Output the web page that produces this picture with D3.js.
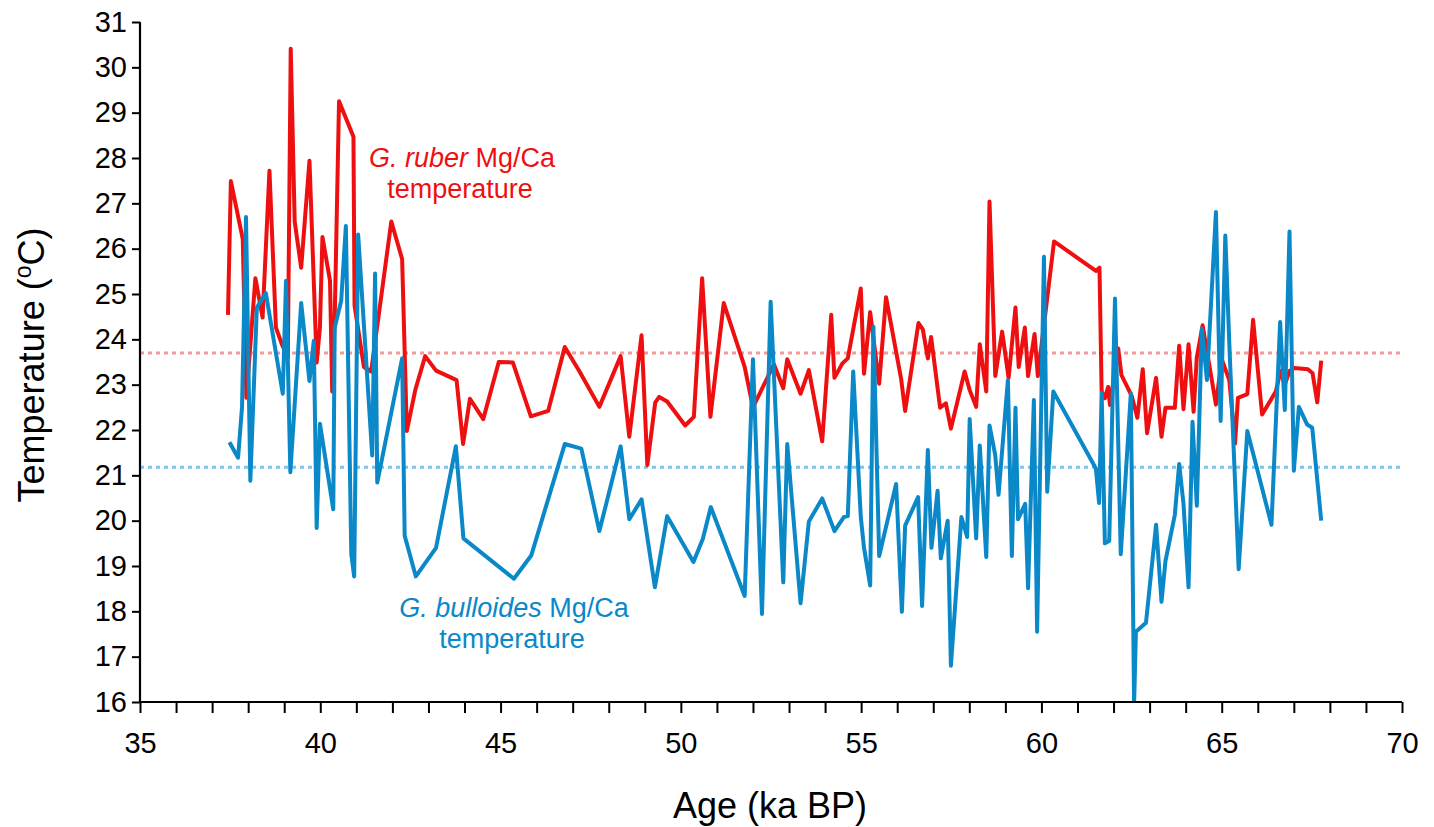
<!DOCTYPE html>
<html><head><meta charset="utf-8">
<script src="https://cdn.jsdelivr.net/npm/d3@7"></script>
<style>body{margin:0;background:#fff}svg text{font-family:"Liberation Sans",Arial,sans-serif}</style>
</head><body>
<svg id="c" width="1434" height="827"></svg>
<script>
const rubAge=[37.44,37.52,37.85,37.95,38.20,38.40,38.59,38.77,38.94,39.10,39.18,39.29,39.47,39.70,39.90,39.99,40.06,40.27,40.33,40.40,40.52,40.92,40.95,41.21,41.41,41.97,42.27,42.40,42.64,42.91,43.21,43.78,43.96,44.15,44.52,44.95,45.34,45.84,46.32,46.78,47.19,47.74,48.33,48.57,48.91,49.07,49.29,49.40,49.62,50.12,50.36,50.59,50.82,51.19,51.77,52.00,52.58,52.84,52.95,53.32,53.55,53.92,54.17,54.26,54.48,54.63,54.78,54.99,55.08,55.25,55.50,55.69,56.11,56.22,56.59,56.71,56.85,56.94,57.19,57.35,57.49,57.87,58.01,58.19,58.29,58.47,58.56,58.72,58.91,59.09,59.28,59.37,59.54,59.63,59.81,59.90,60.35,61.51,61.61,61.67,61.76,61.85,61.90,62.13,62.22,62.50,62.66,62.81,62.93,63.18,63.33,63.44,63.70,63.82,63.94,64.08,64.22,64.31,64.47,64.62,64.84,65.00,65.21,65.37,65.45,65.71,65.87,66.12,66.50,66.63,66.75,66.88,67.02,67.39,67.52,67.65,67.76];
const rubTemp=[24.54,27.49,26.21,22.71,25.35,24.48,27.72,24.26,23.88,23.6,30.41,26.6,25.58,27.94,23.49,24.26,26.26,25.29,22.85,24.46,29.25,28.47,24.75,23.39,23.29,26.6,25.77,21.98,22.9,23.63,23.31,23.1,21.69,22.69,22.24,23.5,23.49,22.3,22.42,23.83,23.29,22.51,23.63,21.85,24.09,21.23,22.61,22.73,22.63,22.1,22.29,25.35,22.29,24.8,23.39,22.5,23.45,22.92,23.56,22.8,23.32,21.75,24.54,23.15,23.47,23.58,24.22,25.12,23.24,24.6,23.02,24.93,23.12,22.42,24.36,24.22,23.58,24.05,22.49,22.59,22.03,23.29,22.88,22.51,23.89,22.85,27.04,23.19,24.17,23.15,24.7,23.39,24.26,23.19,24.12,23.19,26.16,25.51,25.58,22.85,22.7,22.95,22.55,23.8,23.21,22.76,22.27,23.34,21.93,23.15,21.85,22.49,22.49,23.86,22.46,23.89,22.4,23.6,24.31,23.6,22.56,23.56,23.1,21.7,22.71,22.79,24.43,22.34,22.85,23.3,23.0,23.3,23.37,23.34,23.25,22.61,23.53];
const bulAge=[37.48,37.72,37.83,37.94,38.06,38.24,38.49,38.96,39.05,39.17,39.47,39.70,39.82,39.90,39.99,40.36,40.40,40.58,40.71,40.86,40.94,41.05,41.44,41.52,41.58,42.27,42.34,42.65,43.21,43.76,43.97,45.37,45.85,46.78,47.24,47.74,48.33,48.57,48.91,49.28,49.62,50.35,50.61,50.83,51.77,52.00,52.25,52.49,52.84,52.95,53.32,53.55,53.92,54.26,54.52,54.63,54.78,54.99,55.08,55.25,55.34,55.50,55.97,56.13,56.22,56.58,56.69,56.85,56.95,57.12,57.21,57.40,57.49,57.78,57.94,58.01,58.19,58.29,58.47,58.56,58.72,58.81,59.07,59.18,59.28,59.35,59.55,59.63,59.79,59.88,60.07,60.16,60.33,61.51,61.60,61.67,61.76,61.88,62.04,62.20,62.48,62.57,62.62,62.90,63.18,63.33,63.44,63.70,63.82,63.94,64.08,64.19,64.31,64.45,64.59,64.84,64.97,65.10,65.21,65.47,65.71,66.38,66.62,66.75,66.88,67.00,67.14,67.37,67.51,67.76];
const bulTemp=[21.73,21.39,22.51,26.7,20.88,24.7,25.02,22.8,25.29,21.07,24.8,23.08,23.97,19.84,22.14,20.25,24.26,24.85,26.5,19.26,18.77,26.31,21.44,25.45,20.84,23.58,19.67,18.77,19.4,21.64,19.61,18.72,19.23,21.69,21.59,19.77,21.64,20.03,20.47,18.53,20.1,19.09,19.6,20.3,18.34,23.56,17.94,24.83,18.64,21.69,18.18,19.98,20.49,19.77,20.08,20.1,23.29,20.08,19.4,18.57,24.28,19.22,20.81,17.99,19.89,20.52,18.12,21.56,19.4,20.66,19.17,20.0,16.8,20.08,19.64,22.24,19.61,21.66,19.2,22.1,21.44,20.57,23.1,19.22,22.49,20.03,20.37,18.51,22.66,17.55,25.82,20.64,22.85,21.15,20.39,22.82,19.5,19.55,24.9,19.26,22.81,15.95,17.55,17.75,19.91,18.21,19.11,20.13,21.25,20.37,18.53,22.18,20.33,24.24,23.1,26.81,22.2,26.29,23.92,18.93,21.98,19.91,24.38,22.44,26.38,21.1,22.51,22.12,22.05,20.0];
const rubMean=23.7, bulMean=21.18;
const xTicks=[35,40,45,50,55,60,65,70];
const yTicks=[16,17,18,19,20,21,22,23,24,25,26,27,28,29,30,31];

const svg=d3.select("#c");
const L=140,R=1402,T=22,B=702;
const x=d3.scaleLinear().domain([35,70]).range([L,R]);
const y=d3.scaleLinear().domain([16,31]).range([B,T]);
const RED="#ee1010", BLUE="#0a88c8";

// mean lines
svg.append("line").attr("x1",L).attr("x2",R).attr("y1",y(rubMean)).attr("y2",y(rubMean))
  .attr("stroke","#f49a9a").attr("stroke-width",3).attr("stroke-dasharray","4,4");
svg.append("line").attr("x1",L).attr("x2",R).attr("y1",y(bulMean)).attr("y2",y(bulMean))
  .attr("stroke","#7cc4ea").attr("stroke-width",3).attr("stroke-dasharray","4,4");

svg.append("defs").append("clipPath").attr("id","clip").append("rect")
  .attr("x",L).attr("y",T-10).attr("width",R-L).attr("height",B-T+10);

const line=d3.line().x(d=>x(d[0])).y(d=>y(d[1]));
svg.append("path").datum(rubAge.map((a,i)=>[a,rubTemp[i]])).attr("d",line)
  .attr("fill","none").attr("stroke",RED).attr("stroke-width",4).attr("stroke-linejoin","round").attr("clip-path","url(#clip)");
svg.append("path").datum(bulAge.map((a,i)=>[a,bulTemp[i]])).attr("d",line)
  .attr("fill","none").attr("stroke",BLUE).attr("stroke-width",4).attr("stroke-linejoin","round").attr("clip-path","url(#clip)");

// axes
const xa=svg.append("g").attr("transform",`translate(0,${B})`)
  .call(d3.axisBottom(x).tickValues(xTicks).tickSize(11).tickPadding(19).tickFormat(d3.format("d")));
const xm=svg.append("g").attr("transform",`translate(0,${B})`)
  .call(d3.axisBottom(x).tickValues(d3.range(35,71).filter(v=>v%5)).tickSize(11).tickFormat(""));
xm.select(".domain").remove();
const ya=svg.append("g").attr("transform",`translate(${L},0)`)
  .call(d3.axisLeft(y).tickValues(yTicks).tickSize(8).tickPadding(5).tickFormat(d3.format("d")));
svg.selectAll(".domain").attr("stroke","#000").attr("stroke-width",2.2);
svg.selectAll(".tick line").attr("stroke","#000").attr("stroke-width",2);
svg.selectAll(".tick text").attr("font-size",29).attr("fill","#000").attr("font-family","Liberation Sans, Arial, sans-serif");
ya.select(".domain").attr("d",`M0,${T}V${B}`);
xa.select(".domain").attr("d",`M${L},0H${R}`);

// titles
svg.append("text").attr("x",770).attr("y",818).attr("text-anchor","middle").attr("font-size",36).text("Age (ka BP)");
const yt=svg.append("text").attr("transform",`translate(44,${(T+B)/2+3}) rotate(-90)`).attr("text-anchor","middle").attr("font-size",36);
yt.append("tspan").text("Temperature (");
yt.append("tspan").attr("font-size",23).attr("dy",-13).text("o");
yt.append("tspan").attr("dy",13).text("C)");

// annotations
const a1=svg.append("text").attr("x",462).attr("y",167).attr("text-anchor","middle").attr("font-size",27).attr("fill",RED);
a1.append("tspan").attr("font-style","italic").text("G. ruber");
a1.append("tspan").text(" Mg/Ca");
svg.append("text").attr("x",460).attr("y",198).attr("text-anchor","middle").attr("font-size",27).attr("fill",RED).text("temperature");
const a2=svg.append("text").attr("x",514).attr("y",617).attr("text-anchor","middle").attr("font-size",27).attr("fill",BLUE);
a2.append("tspan").attr("font-style","italic").text("G. bulloides");
a2.append("tspan").text(" Mg/Ca");
svg.append("text").attr("x",512).attr("y",648).attr("text-anchor","middle").attr("font-size",27).attr("fill",BLUE).text("temperature");
</script>
</body></html>
